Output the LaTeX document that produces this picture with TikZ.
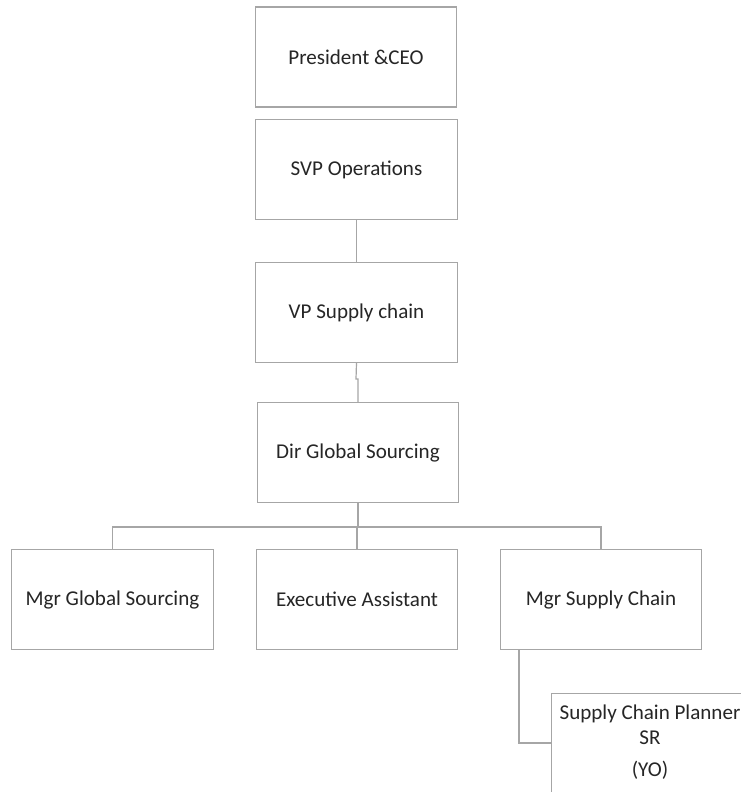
\documentclass[tikz,border=0pt]{standalone}
\usepackage{fontspec}
\setmainfont{Carlito}
\begin{document}
\begin{tikzpicture}[x=0.75pt,y=-0.75pt,
  box/.style={draw=boxgray,line width=0.9pt,fill=white,minimum width=201.5*0.75pt,minimum height=100*0.75pt,inner sep=0pt,align=center,font=\fontsize{15.8}{19}\selectfont,text=black!85},
  conn/.style={draw=boxgray,line width=0.9pt}]
\definecolor{boxgray}{HTML}{A6A6A6}
\path[use as bounding box,fill=white] (0,0) rectangle (741,792);
\node[box] (ceo) at (356,57) {President \&CEO};
\node[box] (svp) at (356.5,169.5) {SVP Operations};
\node[box] (vp) at (356.5,312.5) {VP Supply chain};
\node[box] (dir) at (358,452.5) {Dir Global Sourcing};
\node[box] (mgs) at (112.5,599.5) {Mgr Global Sourcing};
\node[box] (ea) at (357,599.5) {Executive Assistant};
\node[box] (msc) at (601,599.5) {Mgr Supply Chain};
\coordinate (bar) at (358,527);
\coordinate (jog) at (356,379);
\draw[conn] (svp.south) -- (vp.north);
\draw[conn] (vp.south) -- (jog) -- ++(2,0) -- (dir.north);
\draw[conn] (dir.south) -- (bar);
\draw[conn] (mgs.north) -- (mgs.north |- bar) -- (msc.north |- bar) -- (msc.north);
\draw[conn] (ea.north) -- (ea.north |- bar);
\begin{scope}
\clip (0,0) rectangle (741,792);
\node[box,minimum height=110*0.75pt,anchor=north west] (scp) at (551,693) {};
\node[font=\fontsize{15.8}{19}\selectfont,text=black!85,anchor=base] (t1) at (650,719) {Supply Chain Planner};
\node[font=\fontsize{15.8}{19}\selectfont,text=black!85,anchor=base] (t2) at (650,744) {SR};
\node[font=\fontsize{15.8}{19}\selectfont,text=black!85,anchor=base] (t3) at (650,776) {(YO)};
\end{scope}
\coordinate (elbow) at (519,743);
\draw[conn] (519,650) -- (elbow) -- (scp.west |- elbow);
\end{tikzpicture}
\end{document}
